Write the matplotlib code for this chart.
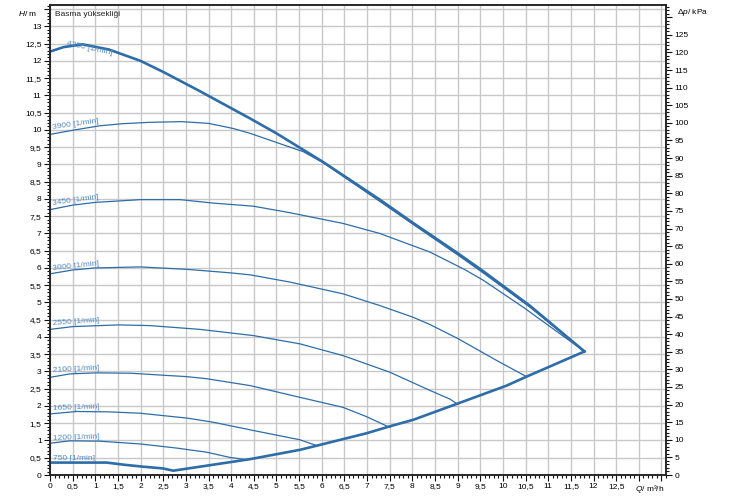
import matplotlib
matplotlib.use("Agg")
import matplotlib.pyplot as plt
from matplotlib.ticker import MultipleLocator, FuncFormatter

plt.rcParams['font.family'] = ['Liberation Sans', 'DejaVu Sans']
plt.rcParams['mathtext.fontset'] = 'custom'
plt.rcParams['mathtext.it'] = 'Liberation Sans:italic'
plt.rcParams['mathtext.rm'] = 'Liberation Sans'

# pump curves, Q in m3/h, H in m
q_4350 = [0, 0.3, 0.72, 1.3, 2.0, 2.5, 3.27, 4.42, 5.0, 6.03, 7.28, 8.02, 9.01, 9.57, 10.6, 11.8]
h_4350 = [12.27, 12.4, 12.48, 12.33, 12.0, 11.68, 11.15, 10.33, 9.9, 9.07, 7.98, 7.3, 6.42, 5.9, 4.9, 3.58]

q_3900 = [0, 0.5, 1.1, 1.6, 2.2, 2.9, 3.5, 4.05, 4.42, 4.97, 5.59, 6.03, 7.28, 8.02, 9.01, 9.57, 10.6, 11.8]
h_3900 = [9.87, 9.99, 10.12, 10.18, 10.22, 10.24, 10.19, 10.04, 9.9, 9.65, 9.37, 9.05, 7.93, 7.26, 6.37, 5.85, 4.86, 3.58]

q_3450 = [0, 0.5, 1.0, 2.0, 2.87, 3.6, 4.49, 5.3, 6.47, 7.28, 8.39, 9.16, 9.57, 10.45, 11.8]
h_3450 = [7.69, 7.82, 7.9, 7.98, 7.98, 7.88, 7.79, 7.6, 7.29, 7.0, 6.46, 5.95, 5.64, 4.86, 3.58]

q_3000 = [0, 0.5, 0.99, 1.99, 3.02, 3.97, 4.42, 5.3, 6.47, 7.28, 8.02, 8.39, 9.01, 9.86, 10.52]
h_3000 = [5.83, 5.94, 6.0, 6.03, 5.96, 5.86, 5.8, 5.59, 5.25, 4.91, 4.57, 4.36, 3.95, 3.32, 2.85]

q_2550 = [0, 0.5, 1.51, 2.2, 3.31, 4.49, 5.52, 6.47, 7.5, 8.39, 8.83, 9.0]
h_2550 = [4.22, 4.3, 4.35, 4.33, 4.22, 4.04, 3.8, 3.46, 2.98, 2.45, 2.2, 2.05]

q_2100 = [0, 0.44, 1.0, 1.77, 3.02, 3.46, 4.42, 5.52, 6.47, 6.99, 7.5]
h_2100 = [2.83, 2.93, 2.96, 2.95, 2.85, 2.79, 2.59, 2.25, 1.96, 1.69, 1.38]

q_1650 = [0, 0.59, 1.3, 1.99, 3.02, 3.6, 4.49, 5.52, 5.89]
h_1650 = [1.77, 1.84, 1.83, 1.79, 1.65, 1.53, 1.29, 1.02, 0.85]

q_1200 = [0, 0.44, 1.1, 1.99, 2.8, 3.46, 3.97, 4.3]
h_1200 = [0.92, 0.99, 0.98, 0.9, 0.78, 0.66, 0.51, 0.45]

# 750 rpm curve plus the lower limit line up to the end point
q_min = [0, 1.25, 1.62, 2.06, 2.5, 2.72, 3.46, 4.42, 5.52, 5.89, 6.99, 7.5, 8.02, 8.98, 10.08, 10.52, 11.8]
h_min = [0.36, 0.36, 0.3, 0.24, 0.19, 0.125, 0.27, 0.46, 0.73, 0.85, 1.21, 1.41, 1.6, 2.06, 2.59, 2.85, 3.58]

# label text, anchor (q, h), rotation
labels = ["4350 [1/min]", "3900 [1/min]", "3450 [1/min]", "3000 [1/min]", "2550 [1/min]",
          "2100 [1/min]", "1650 [1/min]", "1200 [1/min]", "750 [1/min]"]
label_q = [0.37, 0.07, 0.07, 0.07, 0.07, 0.07, 0.07, 0.07, 0.07]
label_h = [12.46, 10.04, 7.82, 5.95, 4.36, 2.98, 1.87, 1.0, 0.435]
label_rot = [-12, 8, 8, 6, 4, 3, 2, 2, 0]

line_col = '#2e6da8'
text_col = '#5289c2'
KPA_PER_M = 9.8

fig = plt.figure(figsize=(7.44, 5.03), dpi=100)
ax = fig.add_axes([50 / 744, 28 / 503, 616 / 744, 470 / 503])

ax.set_xlim(0, 13.6)
ax.set_ylim(0, 13.62)

ax.plot(q_4350, h_4350, color=line_col, lw=1.9, zorder=4)
thin = [(q_3900, h_3900), (q_3450, h_3450), (q_3000, h_3000), (q_2550, h_2550),
        (q_2100, h_2100), (q_1650, h_1650), (q_1200, h_1200)]
for q, h in thin:
    ax.plot(q, h, color=line_col, lw=0.9, zorder=3)
ax.plot(q_min, h_min, color=line_col, lw=1.9, zorder=4)

for txt, x, y, r in zip(labels, label_q, label_h, label_rot):
    ax.text(x, y, txt, color=text_col, fontsize=6, rotation=r,
            rotation_mode='anchor', ha='left', va='baseline', zorder=5)

ax.text(5 / 616, (475 - 15) / 470, "Basma yüksekliği", transform=ax.transAxes,
        fontsize=6, ha='left', va='center', color='#222222')

def comma_fmt(skip):
    def f(v, pos):
        if abs(v - skip) < 1e-6 or v > skip:
            return ''
        s = ('%g' % round(v, 2)).replace('.', ',')
        return s
    return f

ax.xaxis.set_major_locator(MultipleLocator(0.5))
ax.xaxis.set_minor_locator(MultipleLocator(0.1))
ax.yaxis.set_major_locator(MultipleLocator(0.5))
ax.yaxis.set_minor_locator(MultipleLocator(0.1))
ax.xaxis.set_major_formatter(FuncFormatter(comma_fmt(13.0)))
ax.yaxis.set_major_formatter(FuncFormatter(comma_fmt(13.5)))
ax.grid(True, which='major', color='#c8c8c8', lw=1.0, zorder=0)
ax.set_axisbelow(True)

ax.tick_params(which='major', length=4.5, width=0.8, labelsize=6, pad=1.5, color='#111111')
ax.tick_params(which='minor', length=2.5, width=0.8, color='#111111')
for s in ax.spines.values():
    s.set_linewidth(1.1)
    s.set_color('#222222')

ax2 = ax.twinx()
ax2.set_ylim(0, 13.62 * KPA_PER_M)
ax2.yaxis.set_major_locator(MultipleLocator(5))
ax2.yaxis.set_minor_locator(MultipleLocator(1))
ax2.yaxis.set_major_formatter(FuncFormatter(lambda v, p: '' if v >= 130 else '%d' % v))
ax2.tick_params(which='major', length=4.5, width=0.8, labelsize=6, pad=1.5, color='#111111')
ax2.tick_params(which='minor', length=2.5, width=0.8, color='#111111')
for s in ax2.spines.values():
    s.set_linewidth(1.1)
    s.set_color('#222222')

fig.text(37 / 744, 1 - 13 / 503, "$H$/ m", fontsize=6, ha='right', va='center')
fig.text(677 / 744, 1 - 13 / 503, "Δ$p$/ kPa", fontsize=6, ha='left', va='center')
fig.text(664 / 744, 1 - 489 / 503, "$Q$/ m³/h", fontsize=6, ha='right', va='center')

fig.savefig("out.png", dpi=100)
